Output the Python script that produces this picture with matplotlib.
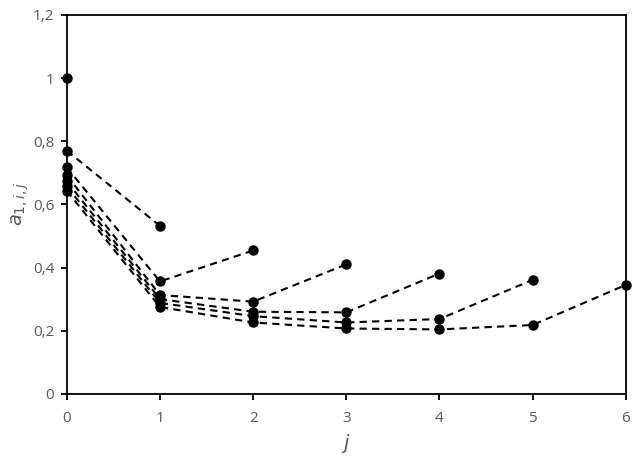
""" a_{1,i,j} vs j, one dashed series per i """

import matplotlib
matplotlib.use("Agg")
import matplotlib.pyplot as plt

# values, one list per i (index = j)
a_i0 = [1.0]
a_i1 = [0.770, 0.532]
a_i2 = [0.717, 0.356, 0.454]
a_i3 = [0.692, 0.313, 0.292, 0.410]
a_i4 = [0.673, 0.300, 0.260, 0.258, 0.381]
a_i5 = [0.657, 0.288, 0.246, 0.226, 0.237, 0.361]
a_i6 = [0.643, 0.275, 0.226, 0.207, 0.204, 0.218, 0.345]

series = [a_i0, a_i1, a_i2, a_i3, a_i4, a_i5, a_i6]

x_ticks = [0, 1, 2, 3, 4, 5, 6]
y_ticks = [0, 0.2, 0.4, 0.6, 0.8, 1.0, 1.2]
y_labels = ["0", "0,2", "0,4", "0,6", "0,8", "1", "1,2"]

GREY = "#595959"

plt.rcParams['font.family'] = ['Open Sans', 'DejaVu Sans']

fig = plt.figure(figsize=(6.36, 4.65), dpi=100)
ax = fig.add_axes([0.105, 0.153, 0.879, 0.815])

for vals in series:
    ax.plot(range(len(vals)), vals, color="black", linestyle=(0, (3.5, 2.5)),
            linewidth=1.5, marker="o", markersize=6.5, clip_on=False, zorder=3)

ax.set_xlim(0, 6)
ax.set_ylim(0, 1.2)
ax.set_xticks(x_ticks)
ax.set_yticks(y_ticks)
ax.set_yticklabels(y_labels)

for side in ["left", "right", "top", "bottom"]:
    ax.spines[side].set_linewidth(1.3)
    ax.spines[side].set_color("black")

ax.tick_params(direction="out", length=4, width=1.3, colors="black",
               labelcolor=GREY, labelsize=11)
ax.tick_params(axis="x", pad=8)
ax.tick_params(axis="y", pad=5)

ax.set_xlabel("$j$", color=GREY, fontsize=14, labelpad=5)
ax.set_ylabel("$a_{1,i,j}$", color=GREY, fontsize=14, labelpad=1)

fig.savefig("out.png", dpi=100)
